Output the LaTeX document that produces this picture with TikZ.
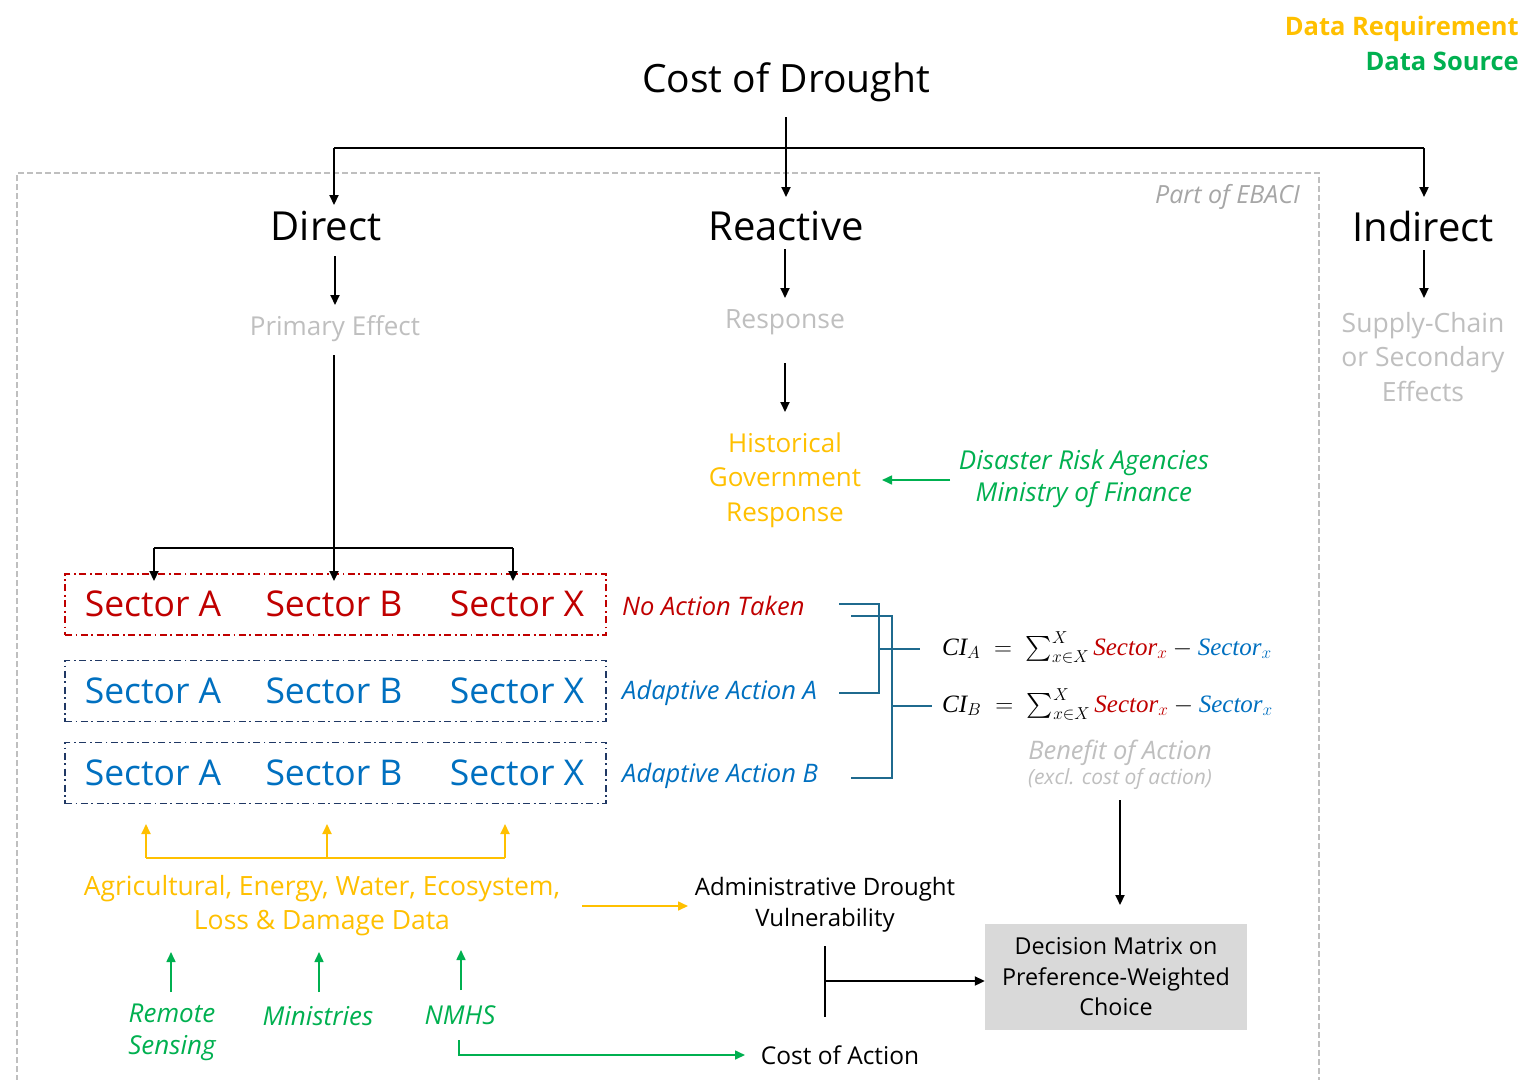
\documentclass[tikz,border=0pt]{standalone}
\usepackage{amsmath}
\usepackage{fontspec}
\setmainfont{Open Sans}
\newfontfamily\mathser{Liberation Serif}
\usetikzlibrary{arrows.meta}
\definecolor{cOrange}{HTML}{FFC000}
\definecolor{cGreen}{HTML}{00B050}
\definecolor{cRed}{HTML}{C00000}
\definecolor{cBlue}{HTML}{0070C0}
\definecolor{cNavy}{HTML}{203864}
\definecolor{cTeal}{HTML}{1F6A8E}
\definecolor{cLight}{HTML}{BFBFBF}
\definecolor{cMid}{HTML}{A6A6A6}
\definecolor{cBoxFill}{HTML}{D9D9D9}
\newcommand{\secx}[1]{\textcolor{#1}{\text{\mathser\itshape Sector}_x}}
\newcommand{\cia}[1]{\text{\mathser\itshape CI}_{#1}}
\begin{document}
\begin{tikzpicture}[x=1pt,y=-1pt,
  fs/.style={font=\fontsize{#1}{#1}\selectfont},
  fsi/.style={font=\fontsize{#1}{#1}\selectfont\itshape},
  txt/.style={inner sep=0pt, align=center},
  tip/.style={-{Triangle[length=10pt,width=9pt]}},
  blk/.style={draw=black, line width=2.2pt},
  thin/.style={line width=1.6pt},
  rowbox/.style={line width=1.8pt, dash pattern=on 7pt off 3.5pt on 1.8pt off 3.5pt, minimum width=541pt, minimum height=61pt, inner sep=0pt},
  sec/.style={txt, fs=35.5}
]
\useasboundingbox (0,0) rectangle (1526,1079);
\fill[white] (0,0) rectangle (1526,1079);

% legend
\node[txt, anchor=east, font=\fontsize{25.5}{28}\selectfont\bfseries, text=cOrange] (lgA) at (1519,29) {Data Requirement};
\node[txt, anchor=east, font=\fontsize{25.5}{28}\selectfont\bfseries, text=cGreen] (lgB) at (1519,61) {Data Source};

% EBACI region
\draw[cLight, line width=1.5pt, dash pattern=on 6pt off 3pt] (17,1090) -- (17,173) -- (1319,173) -- (1319,1090);
\node[txt, fsi=25, text=cMid, anchor=east] (ebaci) at (1300,197) {Part of EBACI};

% top level
\node[txt, fs=39] (cost) at (786,82) {Cost of Drought};
\node[txt, fs=40] (direct) at (326,226) {Direct};
\node[txt, fs=40] (react) at (786,226) {Reactive};
\node[txt, fs=40] (indir) at (1423,226) {Indirect};

\coordinate (c0) at (786,117);
\coordinate (cl) at (334,148);
\coordinate (cr) at (1424,148);
\draw[blk] (cl) -- (cr);
\draw[blk, tip] (c0) -- (786,197);
\draw[blk, tip] (cl) -- (334,205);
\draw[blk, tip] (cr) -- (1424,197);

% second level
\node[txt, fs=26, text=cLight] (prim) at (335,329) {Primary Effect};
\node[txt, fs=26.5, text=cLight] (resp) at (785,322) {Response};
\node[txt, text=cLight, font=\fontsize{26.5}{34.5}\selectfont] (supp) at (1423,357) {Supply-Chain\\or Secondary\\Effects};
\draw[line width=2pt, tip] (335,256) -- (335,305);
\draw[line width=2pt, tip] (785,249) -- (785,298);
\draw[line width=2pt, tip] (1424,250) -- (1424,298);
\draw[line width=2pt, tip] (785,363) -- (785,412);

% historical
\node[txt, text=cOrange, font=\fontsize{26}{34.5}\selectfont] (hist) at (785,480) {Historical\\Government\\Response};
\node[txt, text=cGreen, font=\fontsize{26}{32}\selectfont\itshape] (dra) at (1084,479) {Disaster Risk Agencies\\Ministry of Finance};
\coordinate (draL) at (950,480);
\draw[cGreen, thin, tip] (draL) -- (882,480);

% sector rows
\node[rowbox, draw=cRed] (row1) at (335.5,604.5) {};
\node[rowbox, draw=cNavy] (row2) at (335.5,691) {};
\node[rowbox, draw=cNavy] (row3) at (335.5,773) {};
\foreach \r/\y/\c in {1/604/cRed, 2/691/cBlue, 3/773/cBlue}{
  \node[sec, text=\c] (sA\r) at (153,\y) {Sector A};
  \node[sec, text=\c] (sB\r) at (334,\y) {Sector B};
  \node[sec, text=\c] (sX\r) at (517,\y) {Sector X};
}
\coordinate (pv) at (334,355);
\coordinate (hl) at (154,548);
\coordinate (hr) at (513,548);
\draw[blk] (hl) -- (hr);
\draw[blk, tip] (pv) -- (334,581);
\draw[blk, tip] (hl) -- (154,581);
\draw[blk, tip] (hr) -- (513,581);

% action labels
\node[txt, fsi=25.5, text=cRed, anchor=west] (na) at (622,606) {No Action Taken};
\node[txt, fsi=25.5, text=cBlue, anchor=west] (aa) at (622,693) {Adaptive Action A};
\node[txt, fsi=25.5, text=cBlue, anchor=west] (ab) at (622,776) {Adaptive Action B};

% brackets
\draw[cTeal, thin] (839,604) -- (879,604) -- (879,693) -- (839,693);
\draw[cTeal, thin] (851,616) -- (892,616) -- (892,778) -- (851,778);
\draw[cTeal, thin] (879,649) -- (920,649);
\draw[cTeal, thin] (892,706) -- (932,706);

% formulas
\node[txt, anchor=west, font=\fontsize{25}{28}\selectfont] (fa) at (942,647) {$\cia{A}\;=\;\sum\nolimits_{x\in X}^{X}\secx{cRed}-\secx{cBlue}$};
\node[txt, anchor=west, font=\fontsize{25}{28}\selectfont] (fb) at (942,704) {$\cia{B}\;=\;\sum\nolimits_{x\in X}^{X}\secx{cRed}-\secx{cBlue}$};
\node[txt, fsi=25.5, text=cLight] (ben) at (1120,753) {Benefit of Action};
\node[txt, fsi=21, text=cLight] (excl) at (1120,779) {(excl. cost of action)};

% decision matrix
\node[fill=cBoxFill, minimum width=262pt, minimum height=106pt, inner sep=0pt] (dm) at (1116,977) {};
\node[txt, font=\fontsize{23.3}{30.5}\selectfont] (dmt) at (1116,977) {Decision Matrix on\\Preference-Weighted\\Choice};
\coordinate (bv) at (1120,800);
\draw[line width=2pt, tip] (bv) -- (1120,905);

% admin / cost of action
\node[txt, font=\fontsize{24}{31}\selectfont] (adv) at (825,905) {Administrative Drought\\Vulnerability};
\node[txt, fs=24.5] (coa) at (840,1055) {Cost of Action};
\coordinate (vm) at (825,981);
\draw[line width=2pt] (825,946) -- (825,1017);
\draw[line width=2pt, tip] (vm) -- (vm -| dm.west);

% data requirement
\node[txt, text=cOrange, font=\fontsize{26.5}{34}\selectfont] (agr) at (322,906) {Agricultural, Energy, Water, Ecosystem,\\Loss \& Damage Data};
\coordinate (agrR) at (582,906);
\draw[cOrange, thin, tip] (agrR) -- (688,906);
\coordinate (ol) at (146,858);
\coordinate (om) at (327,858);
\coordinate (or) at (505,858);
\draw[cOrange, line width=2.2pt] (ol) -- (or);
\draw[cOrange, line width=2.2pt, tip] (ol) -- (146,824);
\draw[cOrange, line width=2.2pt, tip] (om) -- (327,824);
\draw[cOrange, line width=2.2pt, tip] (or) -- (505,824);

% data sources
\node[txt, text=cGreen, font=\fontsize{26}{32}\selectfont\itshape] (rs) at (172,1032) {Remote\\Sensing};
\node[txt, fsi=26, text=cGreen] (min) at (318,1016) {Ministries};
\node[txt, fsi=26, text=cGreen] (nmhs) at (460,1015) {NMHS};
\draw[cGreen, thin, tip] (171,992) -- (171,952);
\draw[cGreen, thin, tip] (319,992) -- (319,952);
\draw[cGreen, thin, tip] (461,990) -- (461,950);
\coordinate (ng) at (459,1040);
\draw[cGreen, thin, tip] (ng) -- (459,1055) -- (745,1055);
\end{tikzpicture}
\end{document}
